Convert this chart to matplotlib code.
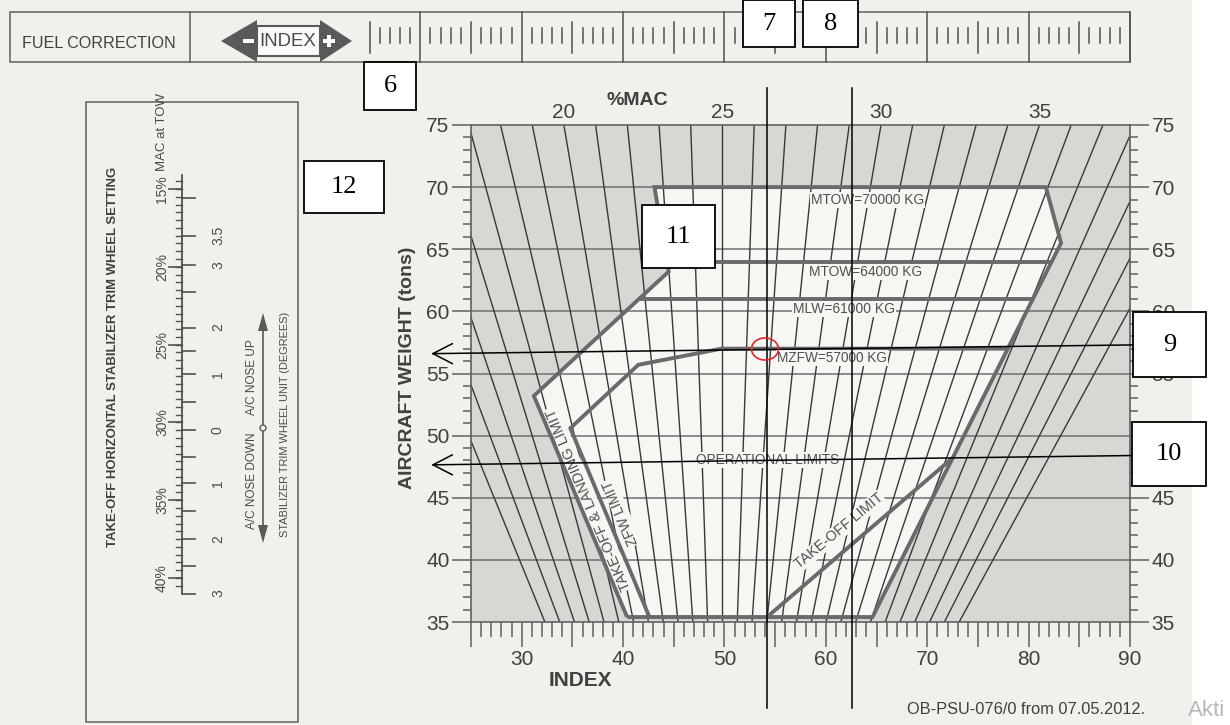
import numpy as np
import matplotlib
matplotlib.use('Agg')
import matplotlib.pyplot as plt
from matplotlib import font_manager, transforms
from matplotlib.patches import Rectangle, Polygon, Ellipse

# ---- values ----
# %MAC lines: index where each line meets 35 t (bottom) and 75 t (top)
mac_pct = list(range(13, 42))
mac_idx_35t = [32.29, 33.75, 35.21, 36.66, 38.12, 39.58, 41.04, 42.50, 43.96, 45.42,
               46.88, 48.34, 49.80, 51.26, 52.72, 54.18, 55.64, 57.10, 58.56, 60.02,
               61.48, 62.94, 64.40, 65.85, 67.31, 68.77, 70.23, 71.69, 73.15]
mac_idx_75t = [12.27, 15.40, 18.53, 21.65, 24.78, 27.91, 31.04, 34.16, 37.29, 40.42,
               43.55, 46.67, 49.80, 52.93, 56.06, 59.18, 62.31, 65.44, 68.57, 71.69,
               74.82, 77.95, 81.07, 84.20, 87.33, 90.46, 93.59, 96.71, 99.84]
mac_top_labels = [20, 25, 30, 35]

weight_major = [35, 40, 45, 50, 55, 60, 65, 70, 75]
index_major = [25, 30, 35, 40, 45, 50, 55, 60, 65, 70, 75, 80, 85, 90]

# envelope corners (index, tons)
env_idx = [40.4, 31.2, 44.5, 43.1, 81.7, 83.2, 64.6, 40.4]
env_w = [35.4, 53.2, 63.2, 70.0, 70.0, 65.5, 35.4, 35.4]
zfw_idx = [42.6, 34.8, 41.5, 49.7, 77.9]
zfw_w = [35.4, 50.6, 55.7, 57.0, 57.0]
tol_idx = [54.2, 72.5]
tol_w = [35.4, 48.2]
mtow64_idx = [44.3, 82.3]
mtow64_w = [64.0, 64.0]
mlw_idx = [41.6, 80.5]
mlw_w = [61.0, 61.0]

# trim wheel scale (left panel), positions in %MAC at TOW
trim_mac_major = [15, 20, 25, 30, 35, 40]
trim_units = ['3.5', '3', '2', '1', '0', '1', '2', '3']
trim_units_mac = [18.0, 19.9, 23.9, 26.9, 30.5, 33.9, 37.5, 41.0]
trim_half_mac = [15.6, 21.6, 25.4, 28.7, 32.2, 35.7, 39.2]

# fuel correction strip (index)
fuel_idx = list(range(15, 91))

# worked example marks
line7_idx = 54.2
line8_idx = 62.6
arrow9_idx = [90.3, 21.25]
arrow9_w = [57.3, 56.6]
arrow10_idx = [90.3, 21.25]
arrow10_w = [48.4, 47.65]

# ---- style ----
names = {f.name for f in font_manager.fontManager.ttflist}
NARROW = 'Liberation Sans Narrow' if 'Liberation Sans Narrow' in names else 'Liberation Sans'
plt.rcParams['font.family'] = ['Liberation Sans', 'DejaVu Sans']
SERIF = ['Liberation Serif', 'DejaVu Serif']

page = '#eff1eb'
shade = '#d6d8d3'
inside = '#f6f7f3'
grid_c = '#6e6e6e'
mac_c = '#383838'
env_c = '#6a6a6a'
txt_c = '#404040'
panel_c = '#4a4a4a'

W_PX, H_PX = 1230, 725
fig = plt.figure(figsize=(12.3, 7.25), dpi=100, facecolor='white')
renderer = fig.canvas.get_renderer()


def fit(t, length):
    rot = t.get_rotation()
    t.set_rotation(0)
    w = t.get_window_extent(renderer).width
    t.set_fontsize(t.get_fontsize() * length / w)
    t.set_rotation(rot)
    return t


bg = fig.add_axes([0, 0, 1, 1], zorder=0)
bg.set_xlim(0, W_PX)
bg.set_ylim(H_PX, 0)
bg.axis('off')
ov = fig.add_axes([0, 0, 1, 1], zorder=3)
ov.set_xlim(0, W_PX)
ov.set_ylim(H_PX, 0)
ov.axis('off')

bg.add_patch(Rectangle((0, 0), 1192, H_PX, facecolor=page, edgecolor='none'))

# ---- main chart ----
ax = fig.add_axes([471 / W_PX, 1 - 622 / H_PX, 659 / W_PX, 497 / H_PX], zorder=1)
ax.set_xlim(25, 90)
ax.set_ylim(35, 75)
ax.set_facecolor(shade)
for s in ax.spines.values():
    s.set_color('#606060')
    s.set_linewidth(1.2)

ax.fill(env_idx, env_w, color=inside, zorder=0.5, lw=0)
for w in weight_major[1:-1]:
    ax.axhline(w, color=grid_c, lw=1.1, zorder=2)
for b, t in zip(mac_idx_35t, mac_idx_75t):
    ax.plot([b, t], [35, 75], color=mac_c, lw=1.0, zorder=2.5)

thick = dict(color=env_c, lw=2.8, zorder=3, solid_joinstyle='miter', solid_capstyle='butt')
ax.plot(env_idx, env_w, **thick)
ax.plot(zfw_idx, zfw_w, **thick)
ax.plot(tol_idx, tol_w, **thick)
ax.plot(mtow64_idx, mtow64_w, **thick)
ax.plot(mlw_idx, mlw_w, **thick)

ax.set_xticks(index_major)
ax.set_xticklabels([str(v) if v % 10 == 0 and v > 25 else '' for v in index_major])
ax.set_xticks(range(25, 91), minor=True)
ax.set_yticks(weight_major)
ax.set_yticks(range(35, 76), minor=True)
ax.tick_params(axis='x', which='major', length=18, width=1.1, color='#606060',
               labelsize=15, labelcolor=txt_c, pad=2)
ax.tick_params(axis='x', which='minor', length=10.5, width=1.1, color='#606060')
ax.tick_params(axis='y', which='major', length=13.5, width=1.1, color='#606060',
               labelsize=15, labelcolor=txt_c, pad=2, right=True, labelright=True)
ax.tick_params(axis='y', which='minor', length=5.8, width=1.1, color='#606060', right=True)
# the right-hand "50" sits fully under callout box 10
for tk, w in zip(ax.yaxis.get_major_ticks(), weight_major):
    if w == 50:
        tk.label2.set_visible(False)

for p in mac_top_labels:
    ax.text(mac_idx_75t[mac_pct.index(p)], 75.97, str(p), ha='center', va='center',
            fontsize=15, color=txt_c, clip_on=False)
ax.text(41.4, 77.0, '%MAC', ha='center', va='center', fontsize=14, weight='bold',
        color=txt_c, clip_on=False)
ov.text(408, 368, 'AIRCRAFT WEIGHT (tons)', rotation=90, ha='center', va='center',
        fontsize=14, weight='bold', color=txt_c)
ov.text(580, 680, 'INDEX', ha='center', va='center', fontsize=15, weight='bold', color=txt_c)

box = dict(facecolor=inside, edgecolor='none', pad=0.6)
lab = dict(ha='center', va='center', color='#505050', fontsize=9, zorder=4,
           family=NARROW, bbox=box)
fit(ax.text(64.15, 68.97, 'MTOW=70000 KG', **lab), 113)
fit(ax.text(63.95, 63.17, 'MTOW=64000 KG', **lab), 113)
fit(ax.text(61.8, 60.2, 'MLW=61000 KG', **lab), 102)
fit(ax.text(60.6, 56.25, 'MZFW=57000 KG', **lab), 110)
fit(ax.text(54.3, 48.05, 'OPERATIONAL LIMITS', **lab), 143)
fit(ax.text(36.6, 44.9, 'TAKE-OFF & LANDING LIMIT', rotation=113, **lab), 195)
fit(ax.text(39.8, 43.8, 'ZFW LIMIT', rotation=113, **lab), 69)
fit(ax.text(61.3, 42.3, 'TAKE-OFF LIMIT', rotation=39.5, **lab), 110)

# worked example lines
ex = dict(color='black', lw=1.1, clip_on=False, zorder=6)
ax.plot([line7_idx, line7_idx], [77.98, 28.1], **ex)
ax.plot([line8_idx, line8_idx], [77.98, 28.1], **ex)
for xi, wi in ((arrow9_idx, arrow9_w), (arrow10_idx, arrow10_w)):
    ax.plot(xi, wi, **ex)
    ax.plot([xi[1] + 1.9, xi[1], xi[1] + 1.9], [wi[1] + 0.8, wi[1], wi[1] - 0.8], **ex)
ov.add_patch(Ellipse((765, 349), 27, 22, facecolor='none', edgecolor='#e3262b', lw=1.2))

# ---- fuel correction strip ----
idx_tr = transforms.blended_transform_factory(ax.transData, bg.transData)
bg.add_patch(Rectangle((10, 12), 1120, 50, facecolor='none', edgecolor='#606060', lw=1.1))
bg.plot([190, 190], [12, 62], color='#606060', lw=1.1)
for i in fuel_idx:
    if i % 10 == 0:
        y0, y1 = 12, 62
    elif i % 5 == 0:
        y0, y1 = 21.5, 52.5
    else:
        y0, y1 = 28, 42.5
    bg.plot([i, i], [y0, y1], color='#505050', lw=1.1, transform=idx_tr)
fit(bg.text(99, 43, 'FUEL CORRECTION', ha='center', va='center', color=txt_c,
            fontsize=10, family=NARROW), 154)
bg.add_patch(Polygon([(221, 41), (257, 20), (257, 62)], closed=True,
                     facecolor='#5a5a5a', edgecolor='none'))
bg.add_patch(Polygon([(352, 41), (320, 20), (320, 62)], closed=True,
                     facecolor='#5a5a5a', edgecolor='none'))
bg.add_patch(Rectangle((257, 26), 63, 30, facecolor='#fafafa', edgecolor='#5a5a5a', lw=1.5))
bg.add_patch(Rectangle((243, 39), 11, 4, facecolor='white', edgecolor='none'))
bg.add_patch(Rectangle((323, 39), 12, 4, facecolor='white', edgecolor='none'))
bg.add_patch(Rectangle((327, 35), 4, 12, facecolor='white', edgecolor='none'))
fit(bg.text(288, 41, 'INDEX', ha='center', va='center', color='#4a4a4a',
            fontsize=10, family=NARROW), 57)

# ---- trim wheel panel ----
sc = fig.add_axes([0, 1 - 593 / H_PX, 0.01, (593 - 175) / H_PX], zorder=0)
sc.set_ylim(40.96, 14.1)
sc.axis('off')
mac_tr = transforms.blended_transform_factory(bg.transData, sc.transData)
bg.add_patch(Rectangle((86, 102), 212, 620, facecolor='none', edgecolor='#606060', lw=1.1))
bg.plot([182, 182], [14.1, 40.96], color='#505050', lw=1.3, transform=mac_tr)
for p in np.arange(14.5, 41.0, 0.5):
    bg.plot([176, 182], [p, p], color='#505050', lw=1.0, transform=mac_tr)
for p in trim_mac_major:
    bg.plot([169, 182], [p, p], color='#505050', lw=1.2, transform=mac_tr)
    bg.text(162, p, f'{p}%', rotation=90, ha='center', va='center', color=panel_c,
            fontsize=10, family=NARROW, transform=mac_tr)
for p in trim_half_mac + trim_units_mac:
    bg.plot([182, 195], [p, p], color='#505050', lw=1.2, transform=mac_tr)
for s, p in zip(trim_units, trim_units_mac):
    bg.text(218, p, s, rotation=90, ha='center', va='center', color=panel_c,
            fontsize=10, family=NARROW, transform=mac_tr)
bg.text(162, 132, 'MAC at TOW', rotation=90, ha='center', va='center', color=panel_c,
        fontsize=9.5, family=NARROW)
fit(bg.text(113, 357, 'TAKE-OFF HORIZONTAL STABILIZER TRIM WHEEL SETTING', rotation=90,
            ha='center', va='center', color=txt_c, fontsize=10, weight='bold',
            family=NARROW), 378)
fit(bg.text(285, 424, 'STABILIZER TRIM WHEEL UNIT (DEGREES)', rotation=90, ha='center',
            va='center', color=panel_c, fontsize=9, family=NARROW), 226)
bg.text(252, 377, 'A/C NOSE UP', rotation=90, ha='center', va='center',
        color=panel_c, fontsize=8.5, family=NARROW)
bg.text(252, 481, 'A/C NOSE DOWN', rotation=90, ha='center', va='center', color=panel_c,
        fontsize=8.5, family=NARROW)
bg.plot([263, 263], [320, 536], color='#5a5a5a', lw=1.2)
bg.add_patch(Polygon([(263, 313), (258, 331), (268, 331)], closed=True,
                     facecolor='#5a5a5a', edgecolor='none'))
bg.add_patch(Polygon([(263, 543), (258, 525), (268, 525)], closed=True,
                     facecolor='#5a5a5a', edgecolor='none'))
bg.add_patch(Ellipse((263, 428), 6, 6, facecolor=page, edgecolor='#5a5a5a', lw=1.0, zorder=5))

# ---- footer ----
fit(bg.text(1026, 709, 'OB-PSU-076/0 from 07.05.2012.', ha='center', va='center',
            color=txt_c, fontsize=10), 238)
ov.text(1188, 710, 'Akti', ha='left', va='center', color='#b8b8b8', fontsize=16)

# ---- numbered callout boxes ----
callouts = [('6', 364, 62, 52, 48), ('7', 743, 0, 52, 47), ('8', 803, 0, 55, 47),
            ('9', 1133, 312, 73, 65), ('10', 1132, 422, 74, 64),
            ('11', 642, 205, 73, 63), ('12', 304, 161, 80, 52)]
for s, x0, y0, bw, bh in callouts:
    ov.add_patch(Rectangle((x0, y0), bw, bh, facecolor='white', edgecolor='black', lw=1.3))
    ov.text(x0 + bw / 2, y0 + bh / 2, s, ha='center', va='center', fontsize=19,
            family=SERIF, color='black')

fig.savefig('out.png', dpi=100, facecolor=fig.get_facecolor())
